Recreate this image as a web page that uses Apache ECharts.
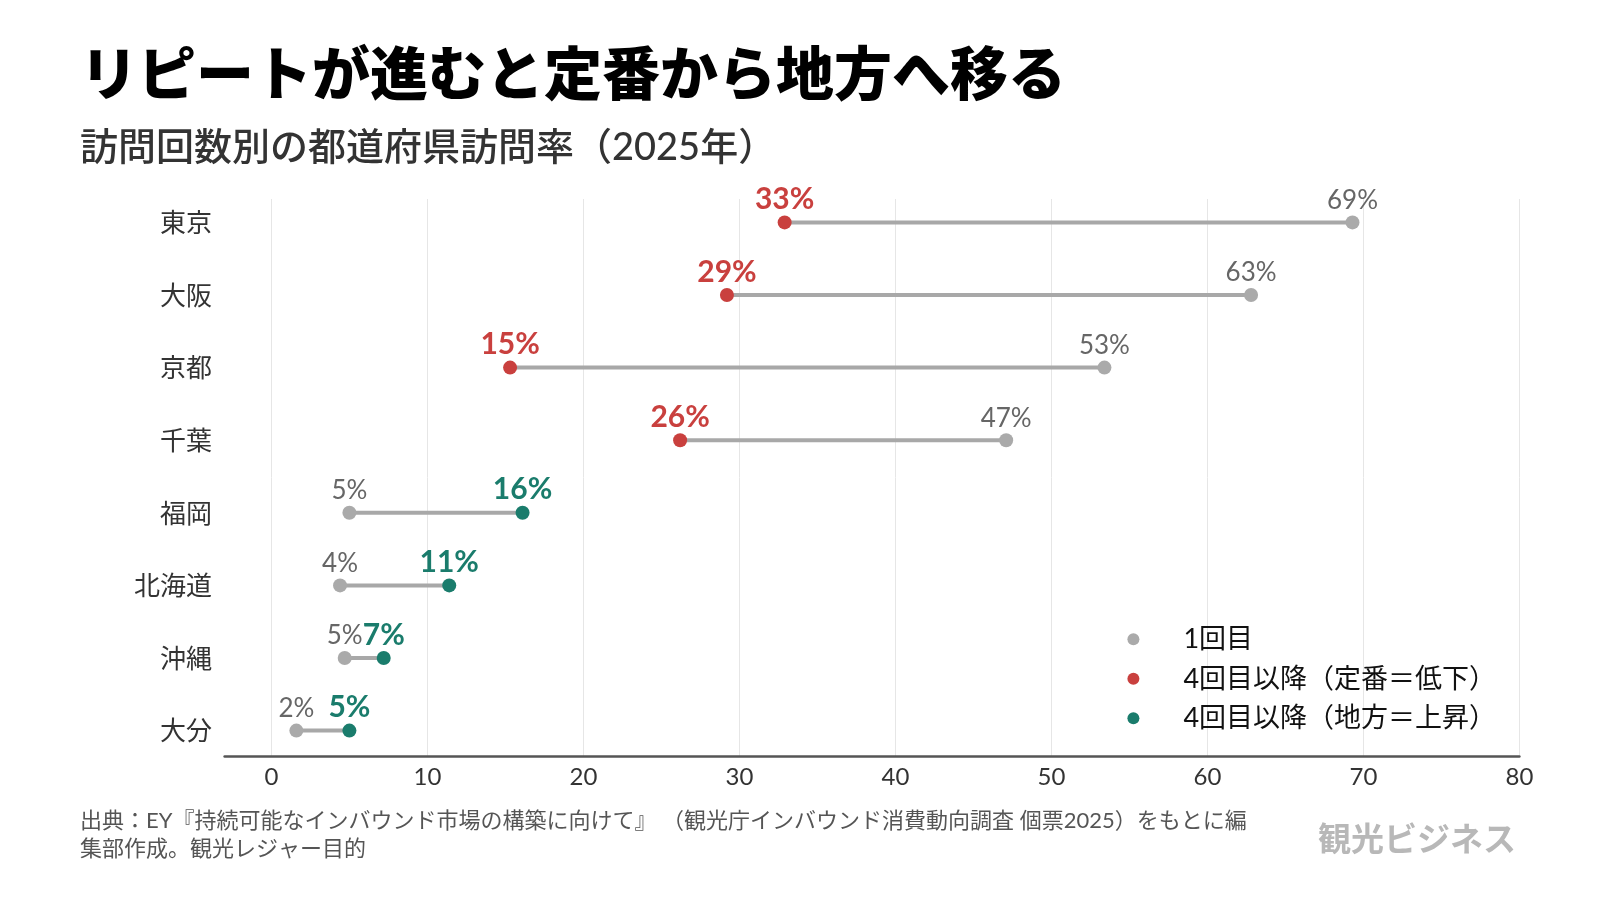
<!DOCTYPE html>
<html><head><meta charset="utf-8">
<script src="https://cdn.jsdelivr.net/npm/echarts@6/dist/echarts.min.js"></script>
<style>html,body{margin:0;padding:0;background:#fff}#c{width:1600px;height:900px}</style>
</head><body><div id="c"></div>
<script>
// ---- data ----
const categories = ['東京', '大阪', '京都', '千葉', '福岡', '北海道', '沖縄', '大分'];
const firstVisit = [69.3, 62.8, 53.4, 47.1, 5.0, 4.4, 4.7, 1.6];
const repeatVisit = [32.9, 29.2, 15.3, 26.2, 16.1, 11.4, 7.2, 5.0];
const seriesNames = ['1回目', '4回目以降（定番＝低下）', '4回目以降（地方＝上昇）'];
const xMin = -3, xMax = 80, xStep = 10;
const titleText = 'リピートが進むと定番から地方へ移る';
const subtitleText = '訪問回数別の都道府県訪問率（2025年）';
const sourceText = '出典：EY『持続可能なインバウンド市場の構築に向けて』 （観光庁インバウンド消費動向調査 個票2025）をもとに編\n集部作成。観光レジャー目的';
const logoText = '観光ビジネス';

// ---- styling ----
const FONT = 'Lato, "Noto Sans CJK JP", sans-serif';
const CJK = '"Noto Sans CJK JP", sans-serif';
const GRAY = '#aaaaaa', RED = '#c9403e', TEAL = '#1a7c6c';

const firstData = firstVisit.map((v, i) => [v, i]);
const declineData = [], riseData = [];
repeatVisit.forEach((v, i) => { (v < firstVisit[i] ? declineData : riseData).push([v, i]); });
const pct = p => Math.round(p.value[0]) + '%';

const gridL = 224.6, gridR = 80.6;
const chart = echarts.init(document.getElementById('c'), null, { renderer: 'canvas' });
chart.setOption({
  backgroundColor: '#fff',
  animation: false,
  title: [
    { text: titleText, left: 80, top: 44, padding: 0,
      textStyle: { fontFamily: CJK, fontSize: 58, fontWeight: 900, color: '#000' } },
    { text: subtitleText, left: 80, top: 129, padding: 0,
      textStyle: { fontFamily: FONT, fontSize: 38, fontWeight: 500, color: '#333' } },
    { text: sourceText, left: 80, top: 807, padding: 0,
      textStyle: { fontFamily: FONT, fontSize: 22, fontWeight: 400, color: '#555', lineHeight: 28 } },
    { text: logoText, left: 1318, top: 822, padding: 0,
      textStyle: { fontFamily: CJK, fontSize: 33, fontWeight: 700, color: '#b8b8b8' } }
  ],
  legend: {
    orient: 'vertical', left: 1127.4, top: 625.8, padding: 0,
    itemWidth: 90, itemHeight: 12, itemGap: 12.5, icon: 'circle',
    selectedMode: false, data: seriesNames,
    textStyle: { fontFamily: FONT, fontSize: 27, color: '#111', lineHeight: 26 }
  },
  grid: [
    { left: gridL, right: gridR, top: 186.1, bottom: 133.1 },
    { left: gridL, right: gridR, top: 199, bottom: 144 }
  ],
  xAxis: [
    { type: 'value', gridIndex: 0, min: xMin, max: xMax, show: false },
    { type: 'value', gridIndex: 1, min: xMin, max: xMax, splitNumber: 8, minInterval: xStep, maxInterval: xStep,
      axisLine: { show: true, lineStyle: { color: '#555', width: 2.5 } },
      axisTick: { show: false },
      axisLabel: { fontFamily: FONT, fontSize: 24, color: '#333', margin: 9,
        formatter: v => v < 0 ? '' : String(v) },
      splitLine: { show: true, showMinLine: false, lineStyle: { color: '#e6e6e6', width: 1 } } }
  ],
  yAxis: [
    { type: 'category', gridIndex: 0, data: categories, inverse: true,
      axisLine: { show: false }, axisTick: { show: false }, splitLine: { show: false },
      axisLabel: { fontFamily: CJK, fontSize: 26, color: '#333', margin: 12.6 } },
    { type: 'value', gridIndex: 1, show: false, min: 0, max: 1 }
  ],
  series: [
    { type: 'custom', xAxisIndex: 0, yAxisIndex: 0, z: 1, silent: true,
      data: categories.map((c, i) => [firstVisit[i], repeatVisit[i], i]),
      encode: { x: [0, 1], y: 2 },
      renderItem: (params, api) => {
        const a = api.coord([api.value(0), api.value(2)]);
        const b = api.coord([api.value(1), api.value(2)]);
        return { type: 'line', shape: { x1: a[0], y1: a[1], x2: b[0], y2: b[1] },
          style: { stroke: '#a8a8a8', lineWidth: 4 } };
      } },
    { name: seriesNames[0], type: 'scatter', xAxisIndex: 0, yAxisIndex: 0, z: 3,
      symbol: 'circle', symbolSize: 14, data: firstData, itemStyle: { color: GRAY, opacity: 1 },
      label: { show: true, position: 'top', distance: 2, formatter: pct,
        fontFamily: FONT, fontSize: 26, fontWeight: 400, color: '#666' } },
    { name: seriesNames[1], type: 'scatter', xAxisIndex: 0, yAxisIndex: 0, z: 3,
      symbol: 'circle', symbolSize: 14, data: declineData, itemStyle: { color: RED, opacity: 1 },
      label: { show: true, position: 'top', distance: 1, formatter: pct,
        fontFamily: FONT, fontSize: 30, fontWeight: 700, color: RED } },
    { name: seriesNames[2], type: 'scatter', xAxisIndex: 0, yAxisIndex: 0, z: 3,
      symbol: 'circle', symbolSize: 14, data: riseData, itemStyle: { color: TEAL, opacity: 1 },
      label: { show: true, position: 'top', distance: 1, formatter: pct,
        fontFamily: FONT, fontSize: 30, fontWeight: 700, color: TEAL } }
  ]
});
</script>
</body></html>
